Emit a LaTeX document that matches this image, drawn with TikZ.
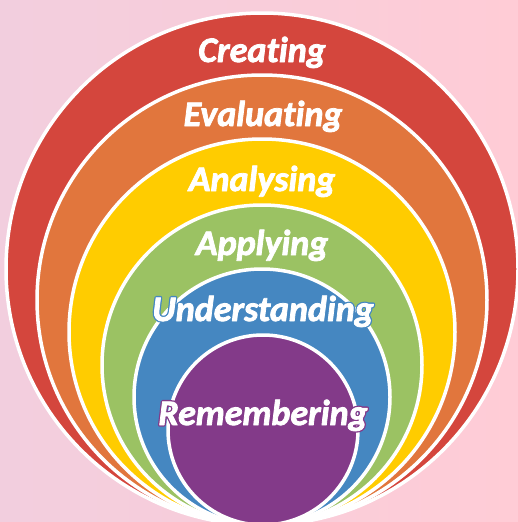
\documentclass[tikz,border=0pt]{standalone}
\usepackage{fontspec}
\setmainfont{Carlito}[Ligatures=NoCommon]
\usetikzlibrary{shapes,positioning}

\definecolor{bgleft}{HTML}{F2CEDE}
\definecolor{bgright}{HTML}{FFCCD6}
\definecolor{redring}{HTML}{D4463D}
\definecolor{orangering}{HTML}{E1763D}
\definecolor{yellowring}{HTML}{FFCC00}
\definecolor{greenring}{HTML}{9BC263}
\definecolor{bluering}{HTML}{4587C1}
\definecolor{purplering}{HTML}{833A89}

% heavier white word
\newcommand{\heavyword}[1]{%
  \special{pdf:literal direct 0.8 w 1 j 2 Tr}#1%
  \special{pdf:literal direct 0 Tr 1 w}}
% white word with a thin coloured rim
\newcommand{\haloword}[2]{%
  \makebox[0pt]{\color{#1}\special{pdf:literal direct 3.4 w 1 j 2 Tr}#2%
    \special{pdf:literal direct 0 Tr 1 w}}%
  \makebox[0pt]{\heavyword{#2}}}

\begin{document}
\begin{tikzpicture}[x=1pt, y=-1pt]
  \tikzstyle{ring} = [circle, draw=white, line width=3.5pt, inner sep=0pt,
    outer sep=0pt, anchor=south]
  \tikzstyle{level} = [anchor=base, text=white, inner sep=0pt,
    font=\fontsize{36}{36}\selectfont\bfseries\itshape]

  % Background
  \useasboundingbox (0,0) rectangle (518,522);
  \shade [left color=bgleft, right color=bgright] (0,0) rectangle (518,522);

  % Place rings
  \node [ring, fill=redring, minimum size=512pt] (creatingring) at (262,525) {};
  \node [ring, fill=orangering, minimum size=450pt] (evaluatingring) at (262,525) {};
  \node [ring, fill=yellowring, minimum size=386pt] (analysingring) at (262,525) {};
  \node [ring, fill=greenring, minimum size=320pt] (applyingring) at (262,525) {};
  \node [ring, fill=bluering, minimum size=256pt] (understandingring) at (262,525) {};
  \node [ring, fill=purplering, minimum size=190pt] (rememberingring) at (263,525) {};

  % Place labels
  \node [level] (creating) at (262,62) {\heavyword{Creating}};
  \node [level] (evaluating) at (263,126) {\heavyword{Evaluating}};
  \node [level] (analysing) at (262,191) {\heavyword{Analysing}};
  \node [level] (applying) at (262,255) {\heavyword{Applying}};
  \node [level] (understanding) at (263,321) {\haloword{bluering}{Understanding}};
  \node [level] (remembering) at (263,425) {\haloword{purplering}{Remembering}};

\end{tikzpicture}
\end{document}
